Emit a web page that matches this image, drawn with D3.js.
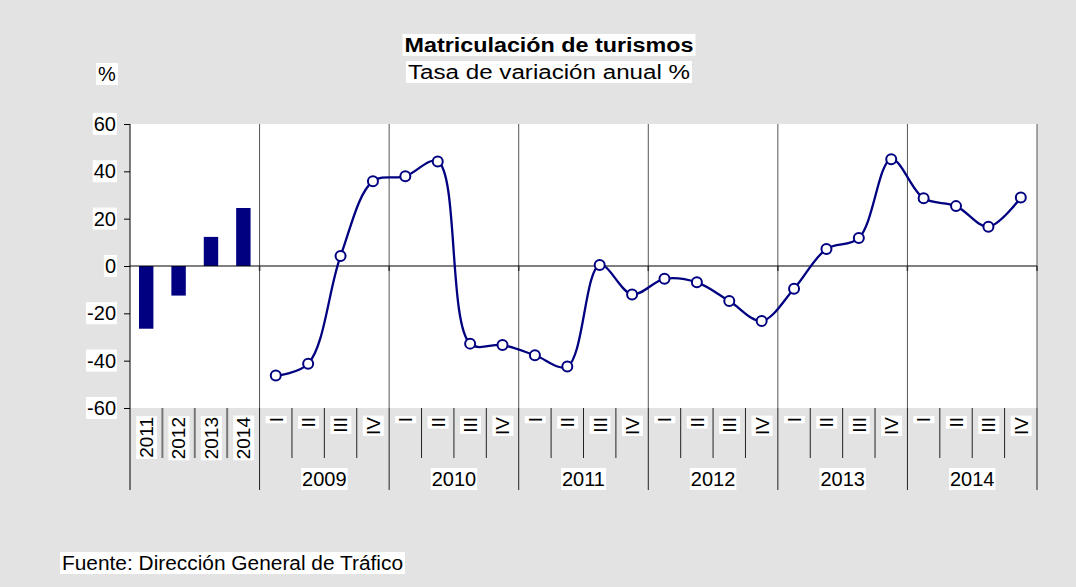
<!DOCTYPE html>
<html>
<head>
<meta charset="utf-8">
<script src="https://cdn.jsdelivr.net/npm/d3@7"></script>
<style>
  body { margin: 0; background: #e3e3e3; }
  svg { display: block; font-family: "Liberation Sans", Arial, sans-serif; }
</style>
</head>
<body>
<svg id="chart" width="1076" height="587"></svg>
<script>
// annual bars
const annualYears = ['2011', '2012', '2013', '2014'];
const annualValues = [-26.5, -12.5, 12.3, 24.5];

// quarterly line
const quarterYears = ['2009', '2010', '2011', '2012', '2013', '2014'];
const quarterLabels = ['I', 'II', 'III', 'IV'];
const quarterValues = [
   -46.3, -41.3, 4.2, 35.8,
   37.9, 44.2, -32.8, -33.4,
   -37.7, -42.5, 0.4, -12.0,
   -5.4, -6.9, -14.8, -23.2,
   -9.6, 7.2, 11.8, 45.1,
   28.6, 25.3, 16.6, 28.9
];

const yTicks = [-60, -40, -20, 0, 20, 40, 60];

const svg = d3.select('#chart');
const plotLeft = 130, plotRight = 1037, plotTop = 124, plotBottom = 408;

const annualKeys = annualYears.map(d => 'A' + d);
const quarterKeys = [];
quarterYears.forEach(yr => quarterLabels.forEach(q => quarterKeys.push(yr + '-' + q)));
const allKeys = annualKeys.concat(quarterKeys);

const x = d3.scaleBand().domain(allKeys).range([plotLeft, plotRight]);
const y = d3.scaleLinear().domain([-60, 60]).range([plotBottom, plotTop]);

// white box behind a text node
function boxIt(sel, pad) {
   sel.each(function() {
      const b = this.getBBox();
      const r = document.createElementNS('http://www.w3.org/2000/svg', 'rect');
      this.parentNode.insertBefore(r, this);
      d3.select(r)
         .attr('x', b.x - pad).attr('y', b.y)
         .attr('width', b.width + pad * 2).attr('height', b.height)
         .attr('fill', '#fff');
   });
}

// plot area
svg.append('rect')
   .attr('x', plotLeft).attr('y', plotTop)
   .attr('width', plotRight - plotLeft).attr('height', plotBottom - plotTop)
   .attr('fill', '#fff');

// vertical separators inside plot
const groupStarts = [annualKeys.length];
quarterYears.forEach((yr, i) => groupStarts.push(annualKeys.length + (i + 1) * 4));
const groupX = groupStarts.map(i => i < allKeys.length ? x(allKeys[i]) : x.range()[1]);

svg.append('g').selectAll('line')
   .data(groupX)
   .enter().append('line')
      .attr('x1', d => d).attr('x2', d => d)
      .attr('y1', plotTop).attr('y2', plotBottom)
      .attr('stroke', '#555').attr('stroke-width', 1);

// lines under the plot (category axis)
const under = svg.append('g');
for (let i = 1; i < allKeys.length; i++) {
   const xx = x(allKeys[i]);
   const long = groupStarts.indexOf(i) >= 0;
   under.append('line')
      .attr('x1', xx).attr('x2', xx)
      .attr('y1', plotBottom).attr('y2', long ? 490 : 458)
      .attr('stroke', i < annualKeys.length ? '#777' : '#222')
      .attr('stroke-width', i < annualKeys.length ? 2 : 1);
}
under.append('line')
   .attr('x1', plotRight).attr('x2', plotRight)
   .attr('y1', plotBottom).attr('y2', 490)
   .attr('stroke', '#222');

// bars
const barW = x.bandwidth() * 0.445;
svg.append('g').selectAll('rect')
   .data(annualValues)
   .enter().append('rect')
      .attr('x', (d, i) => x(annualKeys[i]) + (x.bandwidth() - barW) / 2)
      .attr('y', d => y(Math.max(0, d)))
      .attr('width', barW)
      .attr('height', d => Math.abs(y(d) - y(0)))
      .attr('fill', '#000080');

// zero line and small ticks
svg.append('line')
   .attr('x1', plotLeft).attr('x2', plotRight)
   .attr('y1', y(0)).attr('y2', y(0))
   .attr('stroke', '#000');
svg.append('g').selectAll('line')
   .data(groupX)
   .enter().append('line')
      .attr('x1', d => d).attr('x2', d => d)
      .attr('y1', y(0)).attr('y2', y(0) + 5)
      .attr('stroke', '#333').attr('stroke-width', 1.5);

// y axis
const yAxis = svg.append('g')
   .attr('transform', `translate(${plotLeft},0)`)
   .call(d3.axisLeft(y).tickValues(yTicks).tickFormat(d => String(d))
      .tickSize(6).tickPadding(8).tickSizeOuter(0));
yAxis.select('.domain').remove();
yAxis.selectAll('text').style('font-size', '20px').style('font-family', 'inherit').attr('fill', '#000');
yAxis.selectAll('line').attr('stroke', '#000');
boxIt(yAxis.selectAll('text'), 1);
svg.append('line')
   .attr('x1', plotLeft).attr('x2', plotLeft)
   .attr('y1', plotTop).attr('y2', 490)
   .attr('stroke', '#000');

// line
const line = d3.line()
   .x((d, i) => x(quarterKeys[i]) + x.bandwidth() / 2)
   .y(d => y(d))
   .curve(d3.curveCatmullRom.alpha(0.5));
svg.append('path')
   .datum(quarterValues)
   .attr('d', line)
   .attr('fill', 'none')
   .attr('stroke', '#000080')
   .attr('stroke-width', 2.3);
svg.append('g').selectAll('circle')
   .data(quarterValues)
   .enter().append('circle')
      .attr('cx', (d, i) => x(quarterKeys[i]) + x.bandwidth() / 2)
      .attr('cy', d => y(d))
      .attr('r', 5)
      .attr('fill', '#fff')
      .attr('stroke', '#000080')
      .attr('stroke-width', 2);

// rotated category labels
const rotLabels = annualYears.map((d, i) => [annualKeys[i], d])
   .concat(quarterKeys.map(k => [k, k.split('-')[1]]));
const rot = svg.append('g').selectAll('g')
   .data(rotLabels)
   .enter().append('g')
      .attr('transform', d => `translate(${x(d[0]) + x.bandwidth() / 2},417) rotate(-90)`);
rot.append('text')
   .attr('text-anchor', 'end')
   .attr('dy', '0.36em')
   .style('font-size', '19px')
   .text(d => d[1]);
boxIt(rot.selectAll('text'), 1);

// year labels
const yearText = svg.append('g').selectAll('text')
   .data(quarterYears)
   .enter().append('text')
      .attr('x', (d, i) => (groupX[i] + groupX[i + 1]) / 2)
      .attr('y', 486)
      .attr('text-anchor', 'middle')
      .style('font-size', '20px')
      .text(d => d);
boxIt(yearText, 1);

// titles
const titles = svg.append('g');
titles.append('text')
   .attr('x', 549).attr('y', 52)
   .attr('text-anchor', 'middle')
   .attr('textLength', 289).attr('lengthAdjust', 'spacingAndGlyphs')
   .style('font-size', '20px').style('font-weight', 'bold')
   .text('Matriculación de turismos');
titles.append('text')
   .attr('x', 549).attr('y', 79)
   .attr('text-anchor', 'middle')
   .attr('textLength', 282).attr('lengthAdjust', 'spacingAndGlyphs')
   .style('font-size', '19.5px')
   .text('Tasa de variación anual %');
titles.append('text')
   .attr('x', 98).attr('y', 81)
   .style('font-size', '20px')
   .text('%');
titles.append('text')
   .attr('x', 62).attr('y', 570)
   .attr('textLength', 341).attr('lengthAdjust', 'spacingAndGlyphs')
   .style('font-size', '20px')
   .text('Fuente: Dirección General de Tráfico');
boxIt(titles.selectAll('text'), 2);
</script>
</body>
</html>
